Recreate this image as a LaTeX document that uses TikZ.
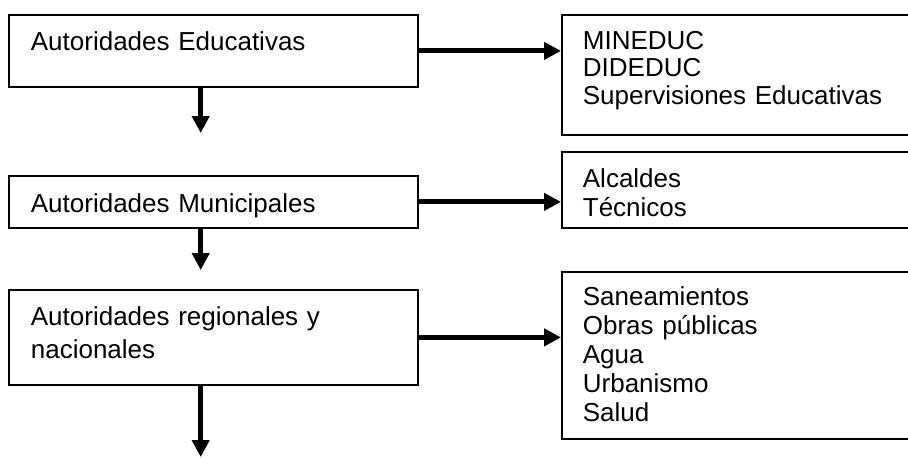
\documentclass[tikz,border=0pt]{standalone}
\usepackage{fontspec}
\setmainfont{Liberation Sans}
\usetikzlibrary{arrows.meta}
\tikzset{>={Triangle[length=17pt,width=17pt]}}
\tikzstyle{level box}=[draw,line width=1.8pt,anchor=north west,align=left,inner ysep=0pt,inner xsep=22pt,
  minimum width=409pt,text width=365pt,font=\fontsize{26pt}{28pt}\selectfont]
\tikzstyle{list box}=[draw,line width=1.8pt,anchor=north west,align=left,inner ysep=0pt,inner xsep=21pt,
  minimum width=360pt,text width=318pt]
\tikzstyle{link}=[->,line width=5pt]

\begin{document}
\begin{tikzpicture}[x=1pt,y=-1pt]
  \useasboundingbox (0,0) rectangle (908,458);
  \clip (0,0) rectangle (908,458);

  % LEVELS OF AUTHORITY
  \node[level box,text height=36pt,text depth=36pt] (edu) at (8,14) {Autoridades Educativas};
  \node[level box,text height=36.7pt,text depth=15.3pt] (muni) at (8,175) {Autoridades Municipales};
  \node[level box,text height=36pt,text depth=59pt,font=\fontsize{26pt}{33pt}\selectfont] (reg) at (8,289)
    {Autoridades regionales y\\nacionales};

  % WHO IS INVOLVED AT EACH LEVEL
  \node[list box,text height=34.3pt,text depth=85.7pt,font=\fontsize{26pt}{27.5pt}\selectfont] (mineduc) at (561,14)
    {MINEDUC\\DIDEDUC\\Supervisiones Educativas};
  \node[list box,text height=35.7pt,text depth=40.3pt,font=\fontsize{26pt}{28.5pt}\selectfont] (alcaldes) at (561,151)
    {Alcaldes\\Técnicos};
  \node[list box,text height=34pt,text depth=133pt,font=\fontsize{26pt}{29pt}\selectfont] (saneam) at (561,271)
    {Saneamientos\\Obras públicas\\Agua\\Urbanismo\\Salud};

  % ARROWS
  \coordinate (edu tip)  at (200.7,133);
  \coordinate (muni tip) at (200.7,270);
  \coordinate (reg tip)  at (200.7,457);
  \draw[link] (edu.east)  -- (edu.east -| mineduc.west);
  \draw[link] (muni.east) -- (muni.east -| alcaldes.west);
  \draw[link] (reg.east)  -- (reg.east -| saneam.west);
  \draw[link] (edu.south -| edu tip)   -- (edu tip);
  \draw[link] (muni.south -| muni tip) -- (muni tip);
  \draw[link] (reg.south -| reg tip)   -- (reg tip);
\end{tikzpicture}
\end{document}
